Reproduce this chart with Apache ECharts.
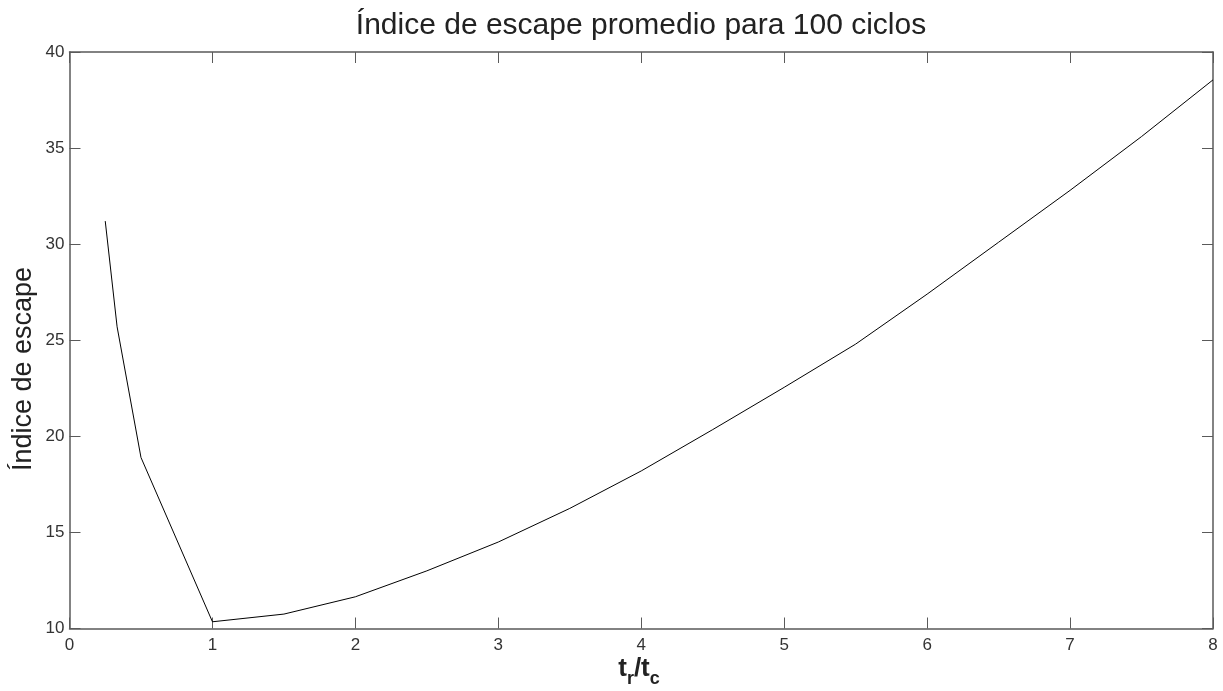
<!DOCTYPE html>
<html>
<head>
<meta charset="utf-8">
<script src="https://cdn.jsdelivr.net/npm/echarts@6/dist/echarts.min.js"></script>
<style>html,body{margin:0;padding:0;background:#fff}#c{width:1223px;height:691px}</style>
</head>
<body>
<div id="c"></div>
<script>
const xValues = [0.25, 0.333, 0.5, 1, 1.5, 2, 2.5, 3, 3.5, 4, 4.5, 5, 5.5, 6, 6.5, 7, 7.5, 8];
const yValues = [31.2, 25.7, 18.9, 10.35, 10.75, 11.65, 13.0, 14.5, 16.25, 18.2, 20.35, 22.55, 24.8, 27.4, 30.1, 32.8, 35.6, 38.55];
const xTicks = [0, 1, 2, 3, 4, 5, 6, 7, 8];
const yTicks = [10, 15, 20, 25, 30, 35, 40];
const titleText = 'Índice de escape promedio para 100 ciclos';
const yLabel = 'Índice de escape';

const chart = echarts.init(document.getElementById('c'), null, {renderer: 'canvas'});
const axisColor = '#5a5a5a';
const font = 'Liberation Sans, Arial, sans-serif';
const xMin = xTicks[0], xMax = xTicks[xTicks.length - 1];
const yMin = yTicks[0], yMax = yTicks[yTicks.length - 1];
const baseX = {
  type: 'value', min: xMin, max: xMax, interval: 1,
  axisLine: {show: true, onZero: false, lineStyle: {color: axisColor, width: 1.5}},
  axisTick: {show: true, inside: true, length: 11, lineStyle: {color: axisColor, width: 1}},
  splitLine: {show: false}
};
const baseY = {
  type: 'value', min: yMin, max: yMax, interval: 5,
  axisLine: {show: true, onZero: false, lineStyle: {color: axisColor, width: 1.5}},
  axisTick: {show: true, inside: true, length: 11, lineStyle: {color: axisColor, width: 1}},
  splitLine: {show: false}
};
chart.setOption({
  animation: false,
  backgroundColor: '#fff',
  grid: {left: 69.5, right: 10, top: 52, bottom: 62.5, containLabel: false},
  xAxis: [
    Object.assign({}, baseX, {position: 'bottom',
      axisLabel: {show: true, color: '#333', fontSize: 17, fontFamily: font, margin: 8}}),
    Object.assign({}, baseX, {position: 'top', axisLabel: {show: false}})
  ],
  yAxis: [
    Object.assign({}, baseY, {position: 'left',
      axisLabel: {show: true, color: '#333', fontSize: 17, fontFamily: font, margin: 5}}),
    Object.assign({}, baseY, {position: 'right', axisLabel: {show: false}})
  ],
  series: [{
    type: 'line', xAxisIndex: 0, yAxisIndex: 0,
    data: xValues.map((x, i) => [x, yValues[i]]),
    showSymbol: false, smooth: false,
    lineStyle: {color: '#000', width: 1}
  }],
  graphic: [
    {type: 'text', x: 641, y: 11,
      style: {text: titleText, fontSize: 30, fontFamily: font, fill: '#222', align: 'center', verticalAlign: 'top'}},
    {type: 'text', x: 10, y: 369, rotation: Math.PI / 2,
      style: {text: yLabel, fontSize: 27, fontFamily: font, fill: '#222', align: 'center', verticalAlign: 'top'}},
    {type: 'text', x: 639, y: 656,
      style: {
        text: '{t|t}{s|r}{t|/t}{s|c}',
        align: 'center', verticalAlign: 'top',
        rich: {
          t: {fontSize: 26, fontFamily: font, fill: '#222', fontWeight: 'bold', verticalAlign: 'top', lineHeight: 26},
          s: {fontSize: 18, fontFamily: font, fill: '#222', fontWeight: 'bold', padding: [20, 0, 0, 0], lineHeight: 26}
        }
      }}
  ]
});
</script>
</body>
</html>
